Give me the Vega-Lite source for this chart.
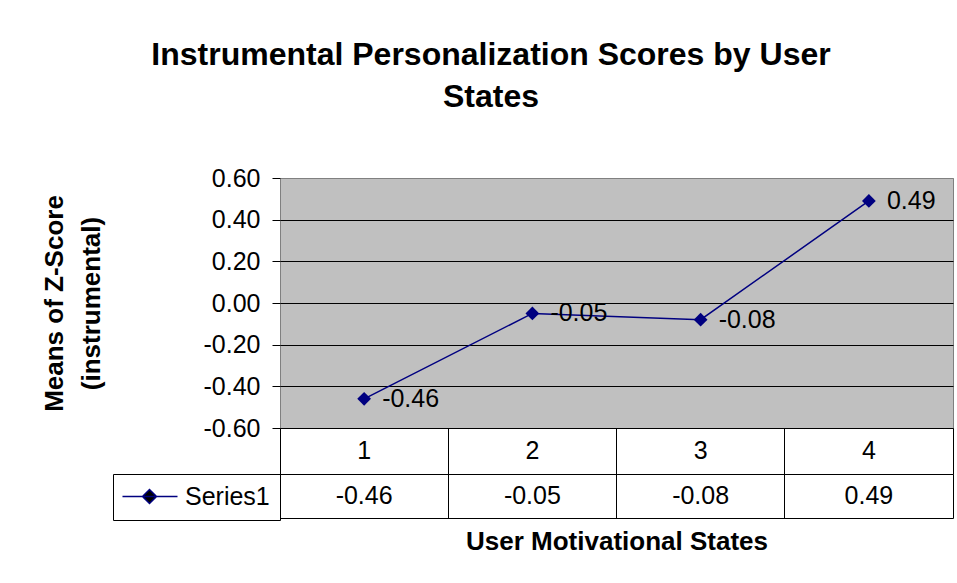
{
  "$schema": "https://vega.github.io/schema/vega-lite/v6.json",
  "background": "white",
  "padding": {"left": 40, "top": 38, "right": 0, "bottom": 0},
  "title": {
    "text": ["Instrumental Personalization Scores by User", "States"],
    "fontSize": 32,
    "fontWeight": "bold",
    "font": "Liberation Sans",
    "color": "black",
    "anchor": "middle",
    "lineHeight": 42,
    "offset": 52,
    "dx": -6
  },
  "config": {
    "font": "Liberation Sans",
    "locale": {"number": {"decimal": ".", "thousands": ",", "grouping": [3], "currency": ["$", ""], "minus": "-"}},
    "axis": {"labelColor": "black", "titleColor": "black", "labelFontSize": 25, "titleFontSize": 26}
  },
  "bounds": "flush",
  "spacing": 0,
  "resolve": {"scale": {"color": "independent"}, "legend": {"color": "independent"}},
  "vconcat": [
    {
      "width": 673,
      "height": 250,
      "view": {"fill": "#C0C0C0", "stroke": "#808080", "strokeWidth": 1},
      "data": {"values": [
        {"state": "1", "z": -0.46},
        {"state": "2", "z": -0.05},
        {"state": "3", "z": -0.08},
        {"state": "4", "z": 0.49}
      ]},
      "encoding": {
        "x": {"field": "state", "type": "nominal", "scale": {"type": "band", "paddingInner": 0, "paddingOuter": 0}, "axis": null},
        "y": {
          "field": "z", "type": "quantitative",
          "scale": {"domain": [-0.6, 0.6], "nice": false, "zero": false},
          "axis": {
            "values": [-0.6, -0.4, -0.2, 0, 0.2, 0.4, 0.6],
            "format": ".2f",
            "title": ["Means of Z-Score", "(instrumental)"],
            "titleFontWeight": "bold",
            "titleLineHeight": 37,
            "titlePadding": 99,
            "labelPadding": 12,
            "tickSize": 8,
            "tickColor": "black",
            "domain": false,
            "grid": true,
            "gridColor": {"condition": {"test": "datum.value > 0.59", "value": "#808080"}, "value": "black"},
            "gridOpacity": 1,
            "gridWidth": 1
          }
        }
      },
      "layer": [
        {"mark": {"type": "line", "color": "#000080", "strokeWidth": 1.5}},
        {"mark": {"type": "point", "shape": "diamond", "filled": true, "color": "#000080", "size": 190, "opacity": 1}},
        {
          "mark": {"type": "text", "align": "left", "baseline": "middle", "dx": 18, "fontSize": 25, "color": "black"},
          "encoding": {"text": {"field": "z", "type": "quantitative", "format": ".2f"}}
        }
      ]
    },
    {
      "width": 673,
      "height": 46,
      "view": {"fill": "white", "stroke": "black", "strokeWidth": 1},
      "data": {"values": [
        {"state": "1"}, {"state": "2"}, {"state": "3"}, {"state": "4"}
      ]},
      "mark": {"type": "text", "fontSize": 25, "color": "black", "baseline": "middle"},
      "encoding": {
        "x": {
          "field": "state", "type": "nominal",
          "scale": {"type": "band", "paddingInner": 0, "paddingOuter": 0},
          "axis": {"grid": true, "gridColor": "black", "gridOpacity": 1, "bandPosition": 0, "labels": false, "ticks": false, "domain": false, "title": null}
        },
        "text": {"field": "state"}
      }
    },
    {
      "width": 673,
      "height": 44,
      "view": {"fill": "white", "stroke": "black", "strokeWidth": 1},
      "data": {"values": [
        {"state": "1", "z": -0.46, "series": "Series1"},
        {"state": "2", "z": -0.05, "series": "Series1"},
        {"state": "3", "z": -0.08, "series": "Series1"},
        {"state": "4", "z": 0.49, "series": "Series1"}
      ]},
      "mark": {"type": "text", "fontSize": 25, "baseline": "middle"},
      "encoding": {
        "x": {
          "field": "state", "type": "nominal",
          "scale": {"type": "band", "paddingInner": 0, "paddingOuter": 0},
          "axis": {
            "grid": true, "gridColor": "black", "gridOpacity": 1, "bandPosition": 0,
            "labels": false, "ticks": false, "domain": false,
            "title": "User Motivational States", "titleFontWeight": "bold", "titlePadding": 10
          }
        },
        "text": {"field": "z", "type": "quantitative", "format": ".2f"},
        "color": {
          "field": "series", "type": "nominal",
          "scale": {"range": ["black"]},
          "legend": {
            "orient": "left",
            "offset": 0,
            "title": null,
            "padding": 10,
            "strokeColor": "black",
            "cornerRadius": 0,
            "labelFontSize": 25,
            "labelColor": "black",
            "labelOffset": 37,
            "symbolType": "M-1.86,0L6,0M1,0L2,-1L3,0L2,1Z",
            "symbolSize": 196,
            "symbolStrokeWidth": 1.5,
            "symbolFillColor": "#000080",
            "symbolStrokeColor": "#000080",
            "encode": {"symbols": {"update": {"fill": {"value": "#000080"}, "stroke": {"value": "#000080"}, "strokeWidth": {"value": 1.5}, "opacity": {"value": 1}}}}
          }
        }
      }
    }
  ]
}
